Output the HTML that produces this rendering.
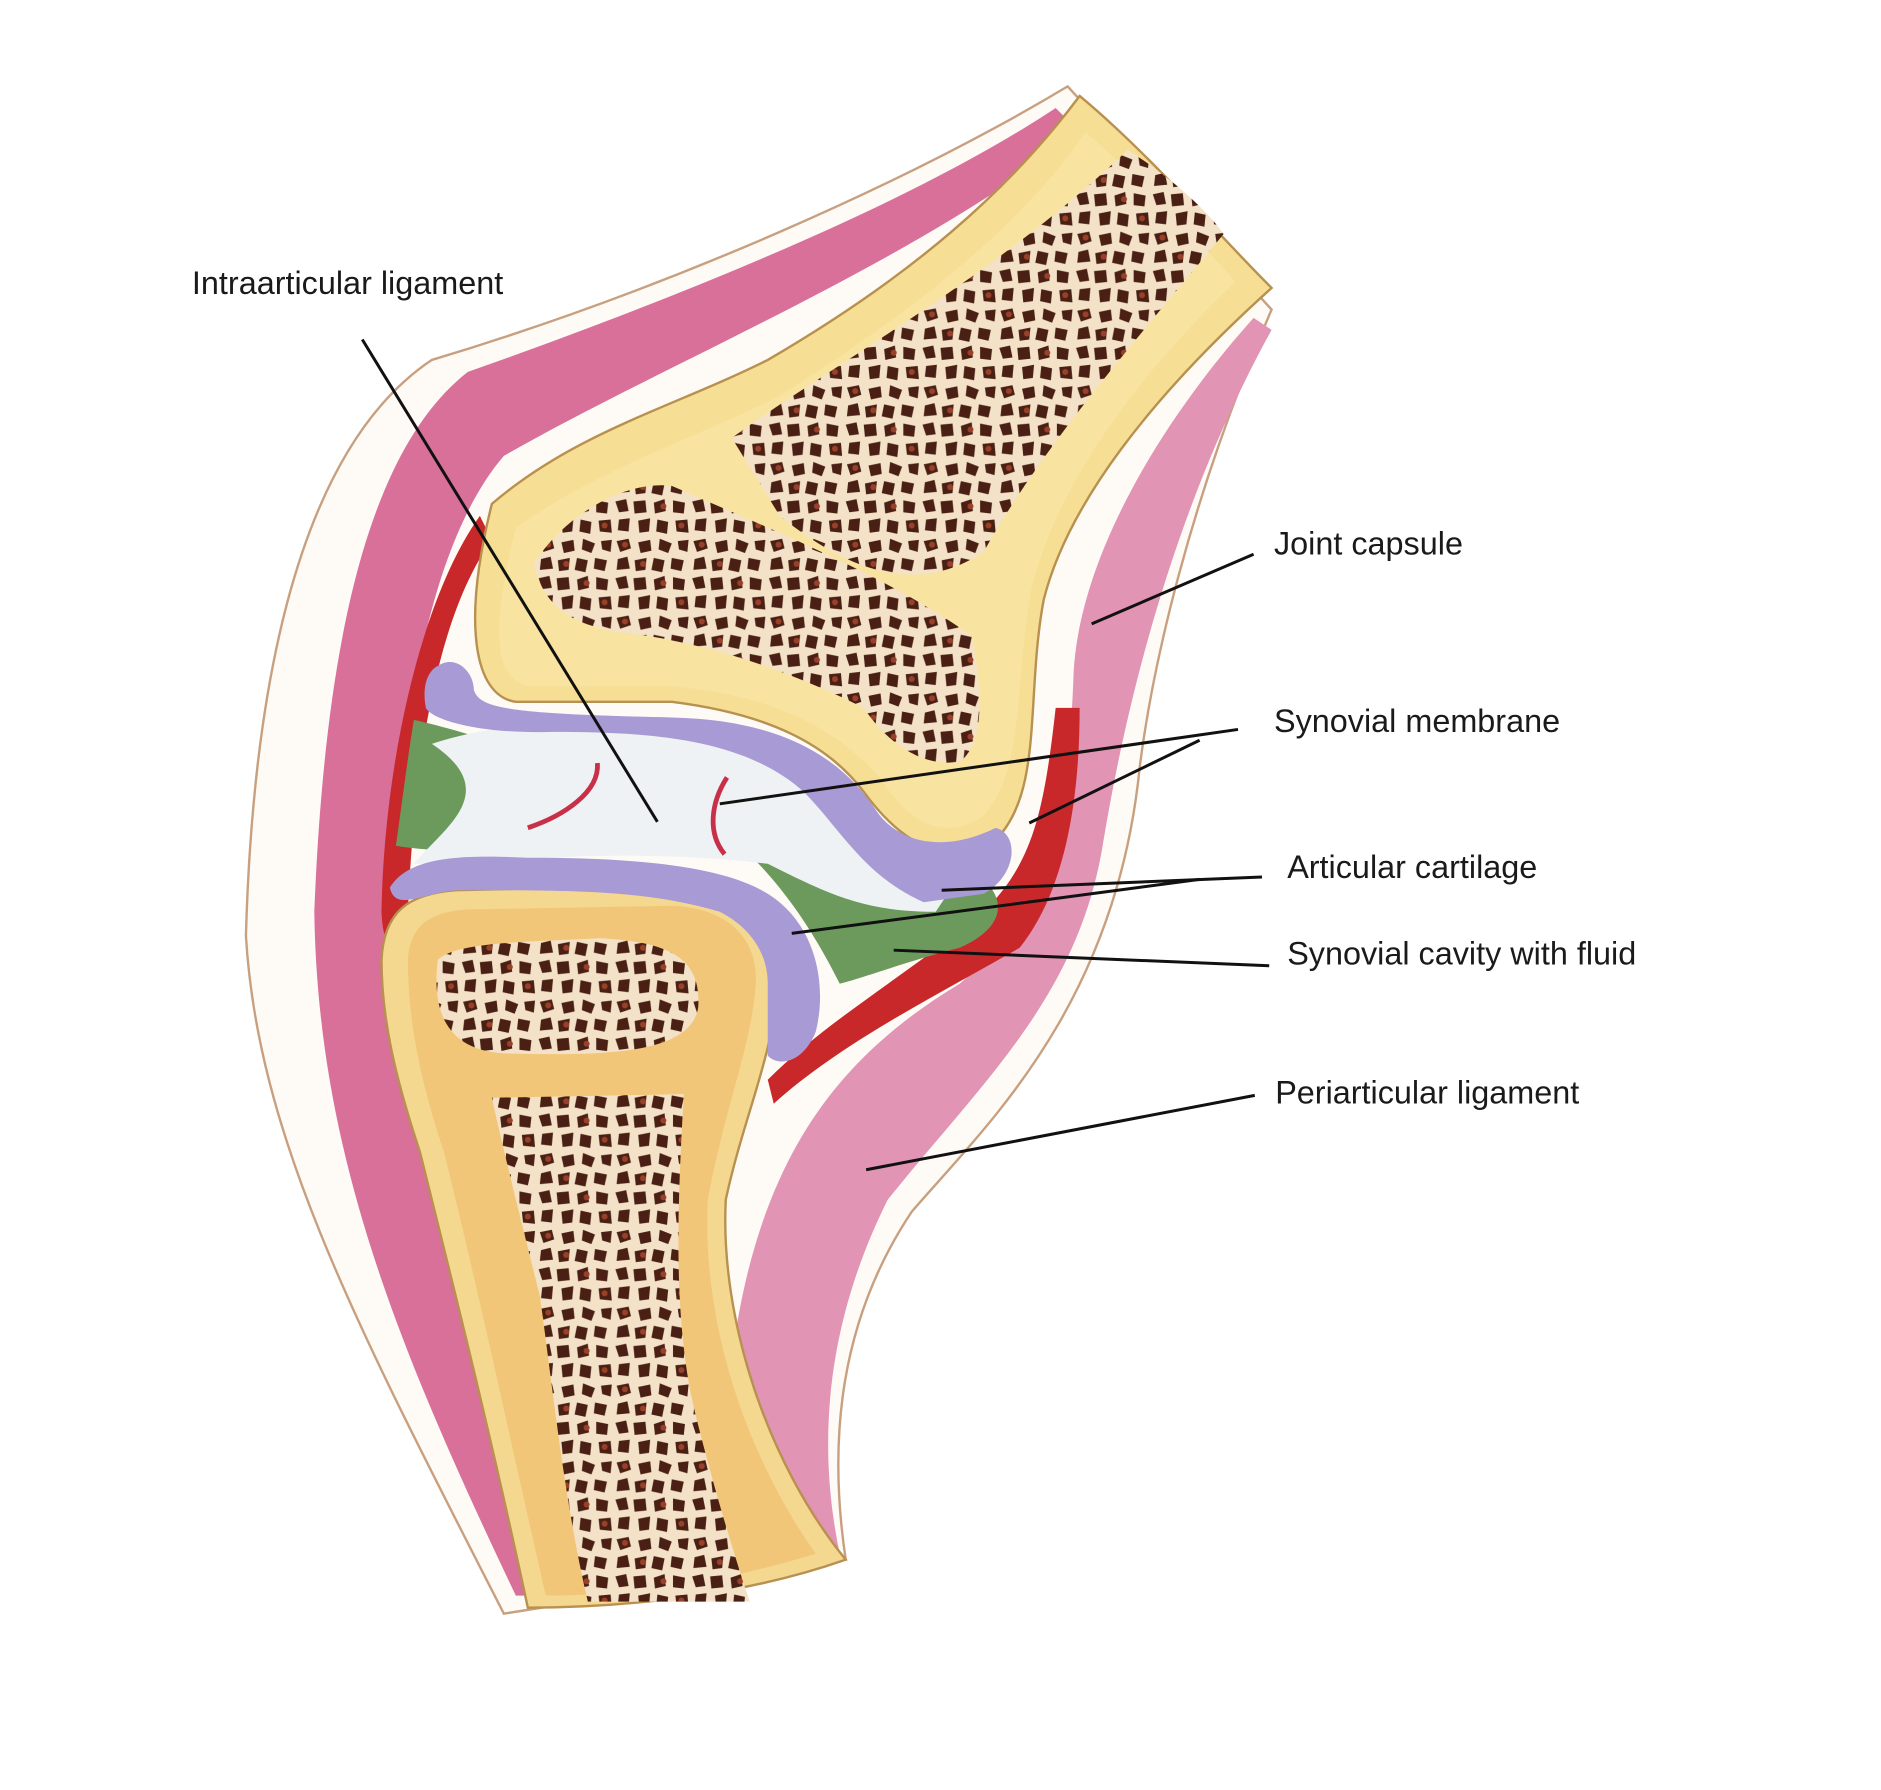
<!DOCTYPE html>
<html><head><meta charset="utf-8"><style>
html,body{margin:0;padding:0;background:#fff;}
svg{display:block;}
text{font-family:"Liberation Sans",sans-serif;font-size:27px;fill:#1a1a1a;}
</style></head><body>
<svg width="1881" height="1790" viewBox="0 0 1568 1492" preserveAspectRatio="none" xmlns="http://www.w3.org/2000/svg">
<defs>
<pattern id="sp" width="64" height="64" patternUnits="userSpaceOnUse">
<rect width="64" height="64" fill="#f4e2c8"/>
<g fill="#4a2015">
<polygon points="2,3 12,1 14,9 5,12"/>
<polygon points="20,4 30,2 31,11 22,13"/>
<polygon points="38,1 48,5 45,13 37,10"/>
<polygon points="53,3 62,2 61,12 54,10"/>
<polygon points="3,18 11,16 13,26 2,27"/>
<polygon points="17,19 27,17 26,27 18,28"/>
<polygon points="33,17 42,19 40,29 31,27"/>
<polygon points="48,17 58,19 56,28 47,26"/>
<polygon points="1,34 10,32 12,42 4,43"/>
<polygon points="16,34 26,33 27,43 17,44"/>
<polygon points="33,35 42,32 43,42 34,44"/>
<polygon points="49,33 59,35 58,44 49,43"/>
<polygon points="4,49 13,48 12,59 3,58"/>
<polygon points="20,50 30,48 29,59 21,60"/>
<polygon points="36,49 45,51 44,61 35,59"/>
<polygon points="51,50 61,49 62,60 52,59"/>
</g>
<g fill="#9a4028"><circle cx="9" cy="6" r="2.5"/><circle cx="41" cy="38" r="2.5"/><circle cx="24" cy="22" r="2.5"/><circle cx="56" cy="54" r="2.5"/></g>
</pattern>
</defs>

<!-- soft tissue fill -->
<path d="M890,72 C760,150 560,240 360,300 C240,380 210,600 205,780 C215,950 300,1110 420,1345 L705,1300 C690,1200 700,1100 760,1010 C820,940 930,840 950,640 C960,560 990,420 1060,258 Z" fill="#fefbf6" stroke="#c8a080" stroke-width="2"/>
<!-- pink muscle/capsule -->
<path d="M880,90 C760,170 560,250 390,310 C300,380 270,560 262,760 C265,960 330,1120 430,1330 L470,1330 C390,1100 340,950 330,780 C330,600 360,450 420,380 C560,300 760,220 900,110 Z" fill="#d8709a"/>
<path d="M1045,265 C960,360 900,470 895,560 C890,700 870,760 800,820 C700,880 640,960 615,1100 C610,1200 640,1260 660,1300 L700,1295 C680,1200 690,1100 740,1000 C820,900 900,830 920,700 C940,580 980,420 1060,275 Z" fill="#e294b4"/>
<!-- red inner layers -->
<path d="M400,430 C350,500 320,640 318,760 C320,800 330,780 340,760 C345,650 360,520 410,450 Z" fill="#c8282a"/>
<path d="M880,590 C870,680 860,720 820,760 C760,810 690,850 640,900 L645,920 C700,870 780,830 850,790 C890,740 900,660 900,590 Z" fill="#c8282a"/>
<!-- upper bone -->
<path d="M410,420 C480,360 560,340 640,300 C760,230 840,160 900,80 C960,130 1010,190 1060,240 C960,330 890,420 870,500 C855,580 870,660 830,700 C800,720 760,715 720,660 C690,620 640,595 560,585 L430,585 C395,580 385,520 410,420 Z" fill="#f6df94" stroke="#b89050" stroke-width="2"/>
<path d="M430,440 C500,390 580,365 650,330 C760,260 850,190 905,110 C950,150 990,190 1030,235 C940,320 880,410 860,490 C845,570 855,640 820,680 C790,700 760,690 735,650 C700,610 650,580 560,572 L440,572 C410,565 410,520 430,440 Z" fill="#f8e3a0"/>
<!-- spongy upper -->
<path d="M610,365 C700,300 830,230 940,125 C980,150 1010,180 1020,195 C950,280 870,370 820,460 C760,500 700,470 650,430 Z" fill="url(#sp)"/>
<path d="M445,470 C470,430 520,400 560,405 C640,440 740,480 810,530 C820,580 820,620 800,635 C770,640 740,620 720,590 C660,560 600,540 540,530 C490,525 455,515 445,470 Z" fill="url(#sp)"/>
<!-- lower bone -->
<path d="M318,800 C320,760 340,745 380,742 L560,738 C620,740 650,770 648,820 C645,880 620,930 605,1000 C600,1100 640,1220 705,1300 C620,1330 520,1340 440,1340 C410,1200 380,1080 350,960 C330,900 318,850 318,800 Z" fill="#f5d890" stroke="#b89050" stroke-width="2"/>
<path d="M340,800 C342,770 360,760 390,758 L560,755 C610,757 632,785 630,820 C627,870 605,920 590,1000 C585,1100 620,1210 680,1295 C600,1320 520,1330 455,1330 C425,1200 400,1080 370,960 C350,900 340,850 340,800 Z" fill="#f2c678"/>
<path d="M365,800 C380,785 440,785 500,782 C560,785 585,800 582,840 C575,880 500,880 420,878 C370,875 360,840 365,800 Z" fill="url(#sp)"/>
<path d="M410,915 L570,912 C565,1000 560,1100 580,1180 C600,1260 620,1320 625,1335 L490,1335 C470,1250 460,1150 450,1080 C430,1000 420,960 410,915 Z" fill="url(#sp)"/>
<!-- synovial cavity green -->
<path d="M345,600 C390,610 450,630 500,655 L470,705 C420,708 370,712 330,705 C335,670 340,630 345,600 Z" fill="#6c9a5c"/>
<path d="M600,640 C680,650 740,690 800,720 C840,740 845,770 800,790 C760,800 720,815 700,820 C680,780 650,730 600,690 Z" fill="#6c9a5c"/>
<!-- white joint space -->
<path d="M360,620 C420,600 500,598 560,600 C640,605 690,630 720,670 C740,700 760,720 800,730 L780,760 C720,760 690,745 640,720 C560,710 470,712 400,720 L345,720 C370,690 420,660 360,620 Z" fill="#eef2f4"/>
<!-- articular cartilage -->
<path d="M365,555 C380,545 395,560 395,575 C400,590 420,595 560,598 C650,600 700,630 730,675 C750,705 790,710 830,690 C850,695 848,730 820,745 L770,752 C720,730 700,690 670,660 C620,615 540,610 460,610 C400,612 360,600 355,590 C352,575 355,560 365,555 Z" fill="#a89ad4"/>
<path d="M325,740 C340,715 380,712 440,715 C520,715 600,720 640,745 C680,770 690,820 680,860 C670,885 650,890 640,880 L640,820 C640,790 620,770 600,760 C540,742 480,742 380,742 C350,745 330,760 325,740 Z" fill="#a89ad4"/>
<!-- red ligament arcs -->
<path d="M498,636 C500,660 470,680 440,690" fill="none" stroke="#c8304a" stroke-width="4"/>
<path d="M606,648 C592,670 590,695 604,712" fill="none" stroke="#c8304a" stroke-width="4"/>

<!-- leader lines -->
<g stroke="#111" stroke-width="2.5" fill="none">
<line x1="302" y1="283" x2="548" y2="685"/>
<line x1="1045" y1="462" x2="910" y2="520"/>
<line x1="1032" y1="608" x2="600" y2="670"/>
<line x1="1000" y1="617" x2="858" y2="686"/>
<line x1="1052" y1="731" x2="785" y2="742"/>
<line x1="1000" y1="733" x2="660" y2="778"/>
<line x1="1058" y1="805" x2="745" y2="792"/>
<line x1="1046" y1="913" x2="722" y2="975"/>
</g>
<text x="160" y="245">Intraarticular ligament</text>
<text x="1062" y="462">Joint capsule</text>
<text x="1062" y="610">Synovial membrane</text>
<text x="1073" y="732">Articular cartilage</text>
<text x="1073" y="804">Synovial cavity with fluid</text>
<text x="1063" y="920">Periarticular ligament</text>
</svg>
</body></html>
